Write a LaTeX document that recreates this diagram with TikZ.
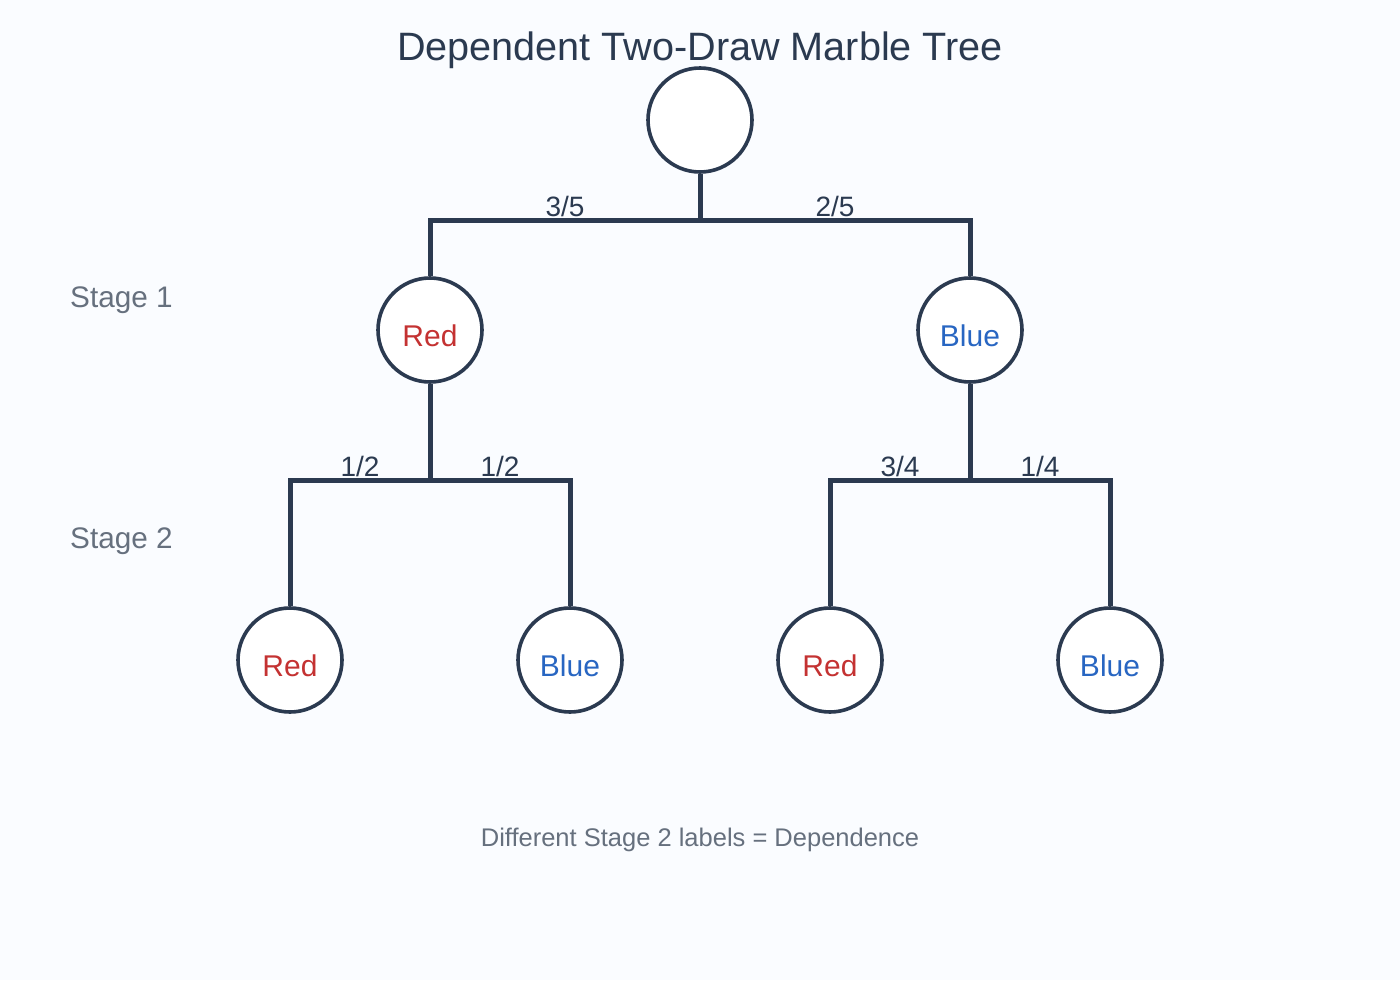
\documentclass[tikz,border=0pt]{standalone}
\usepackage{fontspec}
\setmainfont{Liberation Sans}
\definecolor{ink}{HTML}{2B3A50}
\definecolor{marblered}{HTML}{C43232}
\definecolor{marbleblue}{HTML}{2866C2}
\definecolor{note}{HTML}{66707E}
\definecolor{paper}{HTML}{FAFCFF}
\begin{document}
\begin{tikzpicture}
    [x=1pt, y=-1pt,
    marble/.style={circle, draw=ink, line width=3.6pt, fill=white, minimum size=104pt,
      inner sep=0pt, text height=32pt, text depth=0pt, font=\fontsize{30}{36}\selectfont},
    red marble/.style={marble, text=marblered},
    blue marble/.style={marble, text=marbleblue},
    branch/.style={draw=ink, line width=5pt},
    prob/.style={anchor=base, text=ink, inner sep=0pt, font=\fontsize{28}{34}\selectfont},
    stage/.style={anchor=base west, text=note, inner sep=0pt, font=\fontsize{29.7}{35}\selectfont}]
    \fill[paper] (0,0) rectangle (1400,980);
    \useasboundingbox (0,0) rectangle (1400,980);
    \node[anchor=base, text=ink, font=\fontsize{39.6}{47}\selectfont] (title) at (700,60)
      {Dependent Two-Draw Marble Tree};
    % marbles
    \node[marble] (start) at (700,120) {};
    \node[red marble] (r) at (430,330) {Red};
    \node[blue marble] (b) at (970,330) {Blue};
    \node[red marble] (rr) at (290,660) {Red};
    \node[blue marble] (rb) at (570,660) {Blue};
    \node[red marble] (br) at (830,660) {Red};
    \node[blue marble] (bb) at (1110,660) {Blue};
    \coordinate (fork) at (700,220);
    \coordinate (fork r) at (430,480);
    \coordinate (fork b) at (970,480);
    % branches
    \draw[branch] (start) -- (fork) -| (r);
    \draw[branch] (start) -- (fork) -| (b);
    \draw[branch] (r) -- (fork r) -| (rr);
    \draw[branch] (r) -- (fork r) -| (rb);
    \draw[branch] (b) -- (fork b) -| (br);
    \draw[branch] (b) -- (fork b) -| (bb);
    \node[prob] (p r) at (565,216) {3/5};
    \node[prob] (p b) at (835,216) {2/5};
    \node[prob] (p rr) at (360,476) {1/2};
    \node[prob] (p rb) at (500,476) {1/2};
    \node[prob] (p br) at (900,476) {3/4};
    \node[prob] (p bb) at (1040,476) {1/4};
    \node[stage] (stage 1) at (70,307) {Stage 1};
    \node[stage] (stage 2) at (70,548) {Stage 2};
    \node[anchor=base, text=note, font=\fontsize{25.5}{30}\selectfont] (footer) at (700,846)
      {Different Stage 2 labels = Dependence};
\end{tikzpicture}
\end{document}
